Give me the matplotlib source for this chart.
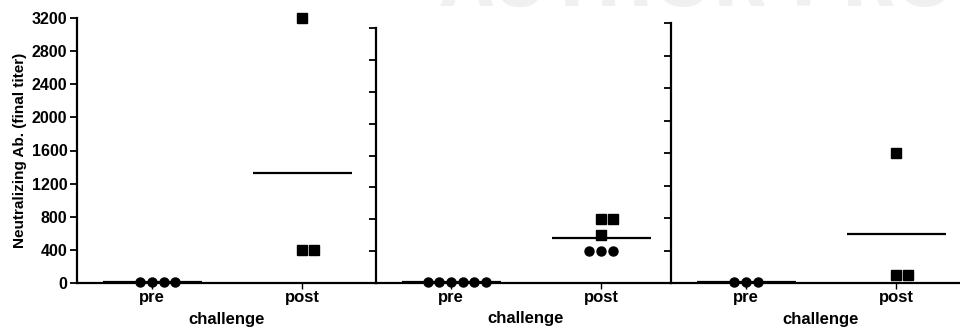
import matplotlib
matplotlib.use('Agg')
import matplotlib.pyplot as plt

plt.rcParams['font.family'] = ['Liberation Sans', 'DejaVu Sans']
plt.rcParams['font.weight'] = 'bold'

categories = ['pre', 'post']
yticks = [0, 400, 800, 1200, 1600, 2000, 2400, 2800, 3200]

# one list per group
g1_pre = [10, 10, 10, 10]
g1_post = [3200, 400, 400]
g2_pre = [10, 10, 10, 10, 10, 10]
g2_post = [800, 800, 600, 400, 400, 400]
g2_post_markers = ['s', 's', 's', 'o', 'o', 'o']
g3_pre = [10, 10, 10]
g3_post = [1600, 100, 100]

panels = [
    (g1_pre, g1_post, None),
    (g2_pre, g2_post, g2_post_markers),
    (g3_pre, g3_post, None),
]

# axes boxes in figure pixels: left, right, top (bottom is shared)
W, H = 960, 329
boxes = [(77, 376, 18), (376, 671, 28), (671, 976, 23)]
bottom_px = 283
spacing = 0.078


def spread(values):
    # column scatter: tied values sit side by side
    xs = []
    seen = {}
    for v in values:
        n = values.count(v)
        i = seen.get(v, 0)
        seen[v] = i + 1
        xs.append((i - (n - 1) // 2) * spacing)
    return xs


fig = plt.figure(figsize=(W / 100, H / 100), dpi=100)

# faint watermark, mostly off the top edge
fig.text(440 / W, 1 - 6 / H, 'AUTHOR PROOF', fontsize=50, color='#f0f0f0',
         family='DejaVu Sans', weight='bold', va='baseline', zorder=0)

for k, ((pre, post, pmarks), (l, r, t)) in enumerate(zip(panels, boxes)):
    ax = fig.add_axes([l / W, 1 - bottom_px / H, (r - l) / W, (bottom_px - t) / H])
    ax.patch.set_alpha(0)
    xmin = -0.5
    xmax = xmin + (r - l) / 150
    ax.set_xlim(xmin, xmax)
    ax.set_ylim(0, 3200)

    for xi, vals, mk in [(0, pre, None), (1, post, pmarks)]:
        offs = spread(vals)
        for j, (o, v) in enumerate(zip(offs, vals)):
            m = mk[j] if mk else ('o' if xi == 0 else 's')
            ax.plot(xi + o, v, marker=m, color='black', markersize=6.5,
                    linestyle='none', clip_on=False, zorder=3)
        mean = sum(vals) / len(vals)
        ax.plot([xi - 0.33, xi + 0.33], [mean, mean], color='black', lw=1.6,
                solid_capstyle='butt', clip_on=False, zorder=2)

    for s in ['top', 'right']:
        ax.spines[s].set_visible(False)
    ax.spines['left'].set_linewidth(1.6)
    ax.spines['bottom'].set_linewidth(1.6)

    ax.set_xticks([0, 1])
    ax.set_xticklabels(categories, fontsize=12, fontweight='bold')
    ax.tick_params(axis='x', length=4, width=1, pad=1)
    ax.set_yticks(yticks)
    ax.tick_params(axis='y', length=5, width=1.3, pad=2)
    if k == 0:
        ax.set_yticklabels([str(v) for v in yticks], fontsize=11.5, fontweight='bold')
        ax.set_ylabel('Neutralizing Ab. (final titer)', fontsize=11, fontweight='bold', labelpad=3)
    else:
        ax.set_yticklabels([])

    ax.set_xlabel('challenge', fontsize=12, fontweight='bold')
    ax.xaxis.set_label_coords((0.5 - xmin) / (xmax - xmin), -0.11)

fig.savefig('out.png', dpi=100)
